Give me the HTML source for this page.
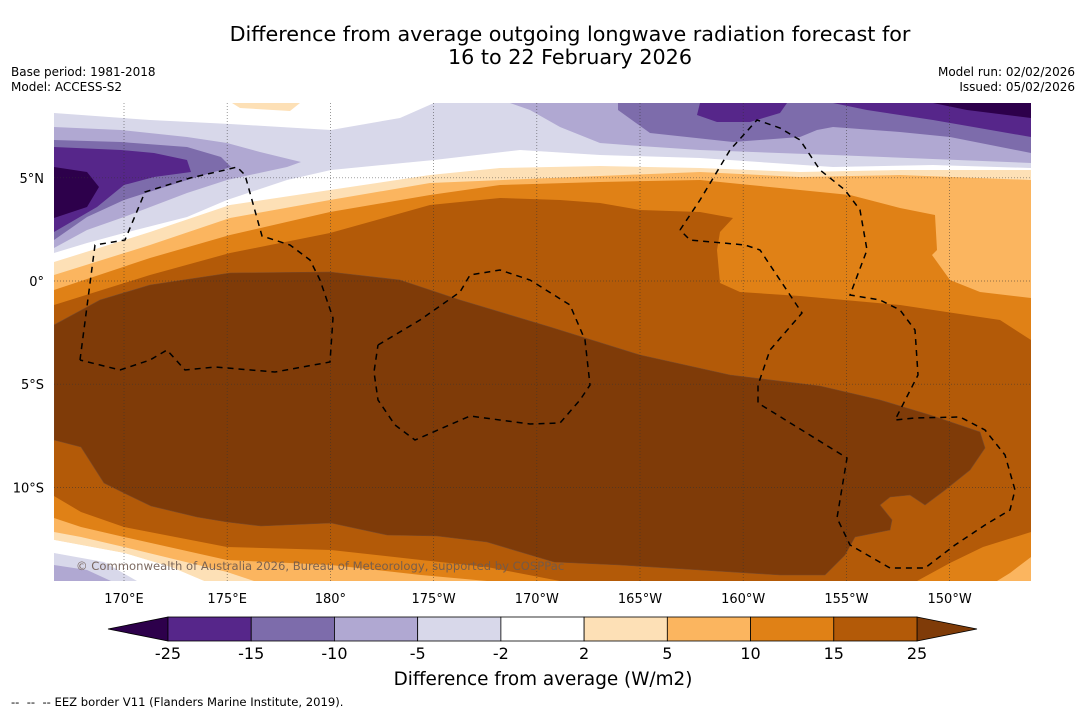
<!DOCTYPE html>
<html><head><meta charset="utf-8"><style>
body{margin:0;background:#fff;width:1085px;height:713px;overflow:hidden;font-family:"DejaVu Sans","Liberation Sans",sans-serif}
svg{display:block;font-family:"DejaVu Sans","Liberation Sans",sans-serif}
</style></head><body>
<svg id="root" width="1085" height="713" viewBox="0 0 1085 713">
<text x="570" y="41" text-anchor="middle" font-size="20.7" fill="#000">Difference from average outgoing longwave radiation forecast for</text>
<text x="570" y="64" text-anchor="middle" font-size="20.7" fill="#000">16 to 22 February 2026</text>
<text x="11" y="76" font-size="12">Base period: 1981-2018</text>
<text x="11" y="91" font-size="12">Model: ACCESS-S2</text>
<text x="1075" y="76" font-size="12" text-anchor="end">Model run: 02/02/2026</text>
<text x="1075" y="91" font-size="12" text-anchor="end">Issued: 05/02/2026</text>
<defs><clipPath id="mapclip"><rect x="54" y="103" width="977" height="478"/></clipPath></defs>
<g clip-path="url(#mapclip)">
<rect x="54" y="103" width="977" height="478" fill="#ffffff"/>
<polygon fill="#fde0b6" points="54,262 150,232 230,205 330,190 430,175 500,168 600,166 700,168 800,172 900,170 1031,170 1031,581 204,581 171,567 124,553 54,540"/>
<polygon fill="#fbb55f" points="54,275 150,245 230,218 330,200 430,183 600,176 700,172 800,177 900,175 1031,180 1031,581 254,581 227,572 124,547 81,537 54,532"/>
<polygon fill="#e08116" points="54,290 150,258 230,235 330,212 430,195 500,185 600,182 700,180 750,185 800,190 850,195 900,208 935,215 937,250 932,255 950,280 980,292 1031,298 1031,557 1010,573 997,581 487,581 421,575 331,565 227,560 124,537 81,527 54,518"/>
<polygon fill="#b35a08" points="54,305 150,275 230,253 330,233 430,205 500,198 560,200 600,203 640,210 700,212 733,218 720,232 717,250 720,283 740,292 800,296 900,305 1000,320 1031,340 1031,532 983,547 950,563 917,581 560,581 487,567 421,560 331,550 227,547 124,527 81,512 54,496"/>
<polygon fill="#7f3b08" stroke="#7a4a2a" stroke-width="0.6" points="54,325 100,300 150,285 230,273 330,272 400,280 460,300 550,327 640,355 730,375 820,386 880,400 930,415 980,432 985,448 970,470 945,490 925,505 910,495 890,497 880,505 892,520 890,530 855,537 845,555 825,575 780,575 700,570 620,565 554,562 487,542 437,536 387,535 331,523 261,526 227,522 197,517 151,506 124,493 104,483 81,447 54,440"/>
<polygon fill="#d8d8ea" points="54,113 150,120 230,124 331,130 400,118 434,103 1031,103 1031,168 933,165 833,167 700,158 600,155 520,150 434,160 331,170 287,180 227,200 187,217 124,233 87,243 54,253"/>
<polygon fill="#fde0b6" points="232,103 300,103 290,111 240,108"/>
<polygon fill="#b0a8d2" points="54,127 121,130 187,137 227,143 260,152 301,162 287,167 227,180 187,193 124,217 87,230 54,248"/>
<polygon fill="#b0a8d2" points="510,103 1031,103 1031,163 833,155 700,150 640,146 600,143 560,127 530,110"/>
<polygon fill="#7d6cab" points="54,140 121,142 187,147 221,157 231,167 187,180 124,200 87,217 54,240"/>
<polygon fill="#7d6cab" points="618,103 1031,103 1031,153 950,137 900,132 833,127 817,130 800,137 733,142 650,133 618,110"/>
<polygon fill="#56268a" points="54,147 121,150 154,153 187,160 191,172 154,177 124,185 97,207 54,232"/>
<polygon fill="#56268a" points="697,115 700,103 787,103 780,113 750,122 717,122"/>
<polygon fill="#56268a" points="833,103 1031,103 1031,137 933,120 867,110"/>
<polygon fill="#2d004b" points="54,167 87,172 99,187 87,207 54,218"/>
<polygon fill="#2d004b" points="933,103 1031,103 1031,118 967,110"/>
<polygon fill="#ffffff" points="54,540 124,553 171,567 204,581 54,581"/>
<polygon fill="#d8d8ea" points="54,553 104,562 137,581 54,581"/>
<polygon fill="#b0a8d2" points="54,565 87,570 111,581 54,581"/>
<g id="grid" stroke="#333" stroke-width="0.7" stroke-dasharray="1,2" opacity="0.7"></g>
<g fill="none" stroke="#000" stroke-width="1.5" stroke-dasharray="6,5">
<polyline points="80,360 95,245 125,240 145,192 190,178 225,170 237,167 245,175 262,236 290,245 310,260 320,280 333,318 330,362 275,372 215,367 185,370 167,350 150,360 120,370 80,360"/>
<polyline points="378,345 420,320 460,292 470,275 500,270 530,280 570,305 585,340 590,385 580,400 560,423 530,424 470,416 415,440 395,425 378,400 374,372 378,345"/>
<polyline points="680,230 700,200 730,150 757,120 780,128 800,140 820,170 845,190 860,210 867,250 850,295 880,300 900,310 915,330 918,375 895,420 915,418 960,417 985,430 1005,455 1015,490 1010,510 985,525 955,545 925,568 890,568 850,545 837,518 847,458 758,403 758,385 770,350 802,313 760,250 745,245 690,240 680,230"/>
</g>
<text x="76" y="570" font-size="11.6" fill="#6e5a50" fill-opacity="0.9">© Commonwealth of Australia 2026, Bureau of Meteorology, supported by COSPPac</text>
</g>
<g id="axes" font-size="13"></g>
<g id="cbar"></g>
<text x="543" y="685" text-anchor="middle" font-size="18.4">Difference from average (W/m2)</text>
<text x="11" y="706" font-size="11.6" xml:space="preserve">--  --  -- EEZ border V11 (Flanders Marine Institute, 2019).</text>
</svg>
<script>
const lonLabels=["170°E","175°E","180°","175°W","170°W","165°W","160°W","155°W","150°W"];
const lonValues=[170,175,180,185,190,195,200,205,210];
const latLabels=["5°N","0°","5°S","10°S"];
const latValues=[5,0,-5,-10];
const cbLevels=[-25,-15,-10,-5,-2,2,5,10,15,25];
const cbColors=["#56268a","#7d6cab","#b0a8d2","#d8d8ea","#ffffff","#fde0b6","#fbb55f","#e08116","#b35a08"];
const cbUnder="#2d004b", cbOver="#7f3b08";
const NS="http://www.w3.org/2000/svg";
function xLon(l){return 124+(l-170)*20.64;}
function yLat(l){return 281-l*20.64;}
function mk(tag,attrs,parent){const e=document.createElementNS(NS,tag);for(const k in attrs)e.setAttribute(k,attrs[k]);parent.appendChild(e);return e;}
const grid=document.getElementById('grid'),axes=document.getElementById('axes'),cbar=document.getElementById('cbar');
lonValues.forEach((v,i)=>{const x=xLon(v);
 const l=mk('line',{x1:x,x2:x,y1:103,y2:581},grid);
 
 
 const t=mk('text',{x:x,y:603,'text-anchor':'middle'},axes);t.textContent=lonLabels[i];
 
 });
latValues.forEach((v,i)=>{const y=yLat(v);
 const l=mk('line',{x1:54,x2:1031,y1:y,y2:y},grid);
 
 
 const t=mk('text',{x:44,y:y+5,'text-anchor':'end'},axes);t.textContent=latLabels[i];
 
 });
const cx0=168,cx1=917,cy=617,ch=24;
function cbX(i){return cx0+(cx1-cx0)*i/(cbLevels.length-1);}
const u=mk('polygon',{points:`108,${cy+ch/2} ${cx0},${cy} ${cx0},${cy+ch}`,fill:cbUnder,stroke:'#000','stroke-width':0.8},cbar);


const o=mk('polygon',{points:`${cx1},${cy} 977,${cy+ch/2} ${cx1},${cy+ch}`,fill:cbOver,stroke:'#000','stroke-width':0.8},cbar);


cbColors.forEach((c,i)=>{const r=mk('rect',{x:cbX(i),y:cy,width:cbX(i+1)-cbX(i),height:ch,fill:c,stroke:'#000','stroke-width':0.8},cbar);
 
 });
cbLevels.forEach((v,i)=>{const t=mk('text',{x:cbX(i),y:659,'text-anchor':'middle','font-size':16},cbar);t.textContent=String(v);
 
 });
</script>
</body></html>
